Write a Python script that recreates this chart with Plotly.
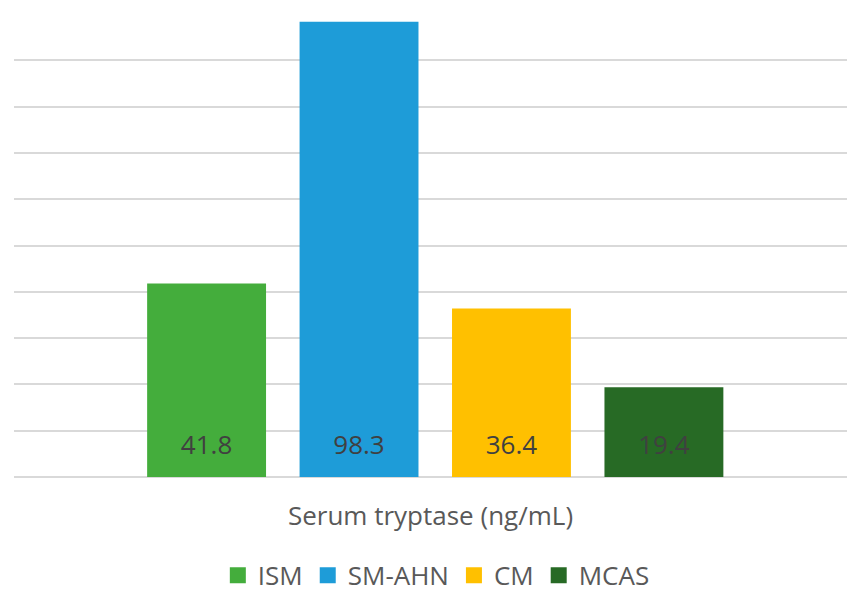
import plotly.graph_objects as go

category = ["Serum tryptase (ng/mL)"]
series_names = ["ISM", "SM-AHN", "CM", "MCAS"]
series_values = [41.8, 98.3, 36.4, 19.4]
colors = ["#44AD3C", "#1E9CD8", "#FFC000", "#276A25"]

FONT = "Open Sans, Noto Sans, sans-serif"
FS = 26

fig = go.Figure()
for name, val, col in zip(series_names, series_values, colors):
    fig.add_trace(go.Bar(
        x=category, y=[val], name=name, showlegend=False, legendgroup=name,
        marker=dict(color=col, line=dict(width=0)),
        text=[val],
        texttemplate="<span style='font-size:%dpx'>%%{y:.1f}</span><br> " % FS,
        textposition="inside", insidetextanchor="start",
        textangle=0,
        textfont=dict(family=FONT, size=12, color="#404040"),
        cliponaxis=False,
    ))
# legend entries (square swatches)
for name, col in zip(series_names, colors):
    fig.add_trace(go.Scatter(
        x=[None], y=[None], name=name, legendgroup=name, mode="markers",
        marker=dict(symbol="square", size=18, color=col),
        showlegend=True, hoverinfo="skip",
    ))

fig.update_layout(
    width=847, height=595,
    margin=dict(l=14, r=0, t=14, b=118, autoexpand=False),
    paper_bgcolor="white", plot_bgcolor="white",
    barmode="group", bargap=0.268, bargroupgap=0.22,
    showlegend=True,
    legend=dict(orientation="h", x=0.507, xanchor="center", y=-0.263, yanchor="bottom",
                font=dict(family=FONT, size=FS, color="#595959"),
                itemwidth=30, traceorder="normal", itemsizing="trace"),
    font=dict(family=FONT),
)
fig.update_xaxes(
    type="category", range=[-0.5057, 0.4943],
    showticklabels=False, showgrid=False, zeroline=False,
    showline=False, ticks="",
    title=dict(text="Serum tryptase (ng/mL)", font=dict(family=FONT, size=FS, color="#595959"), standoff=29),
)
fig.update_yaxes(
    range=[0, 100], dtick=10, showticklabels=False,
    showgrid=True, gridcolor="#D9D9D9", gridwidth=1.5,
    zeroline=True, zerolinecolor="#D9D9D9", zerolinewidth=1.5,
    showline=False, ticks="",
)

fig.write_html("out.html")
